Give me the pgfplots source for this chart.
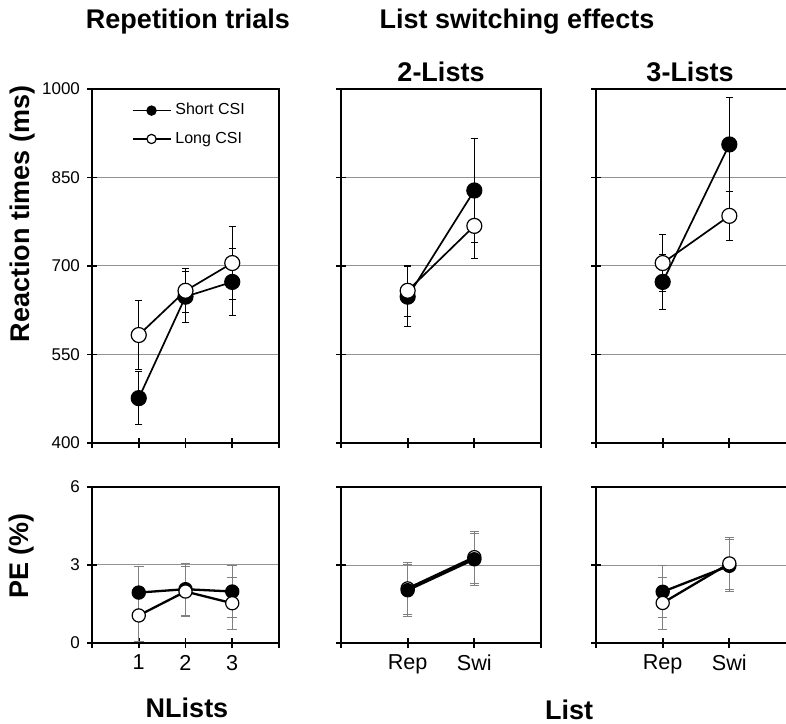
\documentclass[border=0pt]{standalone}
\usepackage{fontspec}
\setmainfont{Liberation Sans}
\usepackage{pgfplots}
\pgfplotsset{compat=1.18}
\begin{document}
\begin{tikzpicture}
\pgfplotsset{
 base/.style={scale only axis, anchor=south west, axis line style={line width=1pt},
   tick style={black, line width=0.9pt}, tick align=center, major tick length=5pt,
   tick pos=left, ymajorgrids, grid style={gray!85, line width=0.5pt},
   /pgf/number format/assume math mode=true, /pgf/number format/1000 sep={},
   yticklabel style={font=\fontsize{8.5}{10}\selectfont},
   xticklabel style={font=\fontsize{10.8}{12}\selectfont},
   clip=false},
 rt/.style={base, height=177pt, ymin=400, ymax=1000, ytick={400,550,700,850,1000}},
 pe/.style={base, height=78pt, ymin=0, ymax=6, ytick={0,3,6}},
 three/.style={width=93.5pt, xmin=0, xmax=4, xtick={0,1,2,3,4}},
 two/.style={width=100pt, xmin=0, xmax=3, xtick={0,1,2,3}},
 topS/.style={black, line width=0.85pt, mark=*, mark size=3.75pt, mark options={fill=black, line width=0.6pt},
   error bars/.cd, y dir=both, y explicit, error bar style={black, line width=0.5pt},
   error mark=-, error mark options={black, line width=0.5pt, mark size=1.8pt, rotate=90}},
 topL/.style={black, line width=0.85pt, mark=*, mark size=3.75pt, mark options={fill=white, line width=0.6pt},
   error bars/.cd, y dir=both, y explicit, error bar style={black, line width=0.5pt},
   error mark=-, error mark options={black, line width=0.5pt, mark size=1.8pt, rotate=90}},
 botS/.style={black, line width=1.15pt, mark=*, mark size=3.3pt, mark options={fill=black, line width=0.6pt},
   error bars/.cd, y dir=both, y explicit, error bar style={gray, line width=0.4pt},
   error mark=-, error mark options={gray, line width=0.4pt, mark size=2.4pt, rotate=90}},
 botL/.style={black, line width=1.15pt, mark=*, mark size=3.3pt, mark options={fill=white, line width=0.6pt},
   error bars/.cd, y dir=both, y explicit, error bar style={gray, line width=0.4pt},
   error mark=-, error mark options={gray, line width=0.4pt, mark size=2.4pt, rotate=90}},
}
% ---------- Top left: Repetition trials RT
\begin{axis}[rt, three, at={(46pt,140pt)}, xticklabels={},
  legend style={draw=none, fill=none, at={(rel axis cs:0.21,0.972)}, anchor=north west,
    font=\fontsize{8}{10}\selectfont, row sep=3pt, inner sep=0pt},
  legend cell align=left,
  legend image code/.code={\draw[mark repeat=2,mark phase=2,#1,mark size=2.3pt] plot coordinates {(0pt,0pt)(9.5pt,0pt)(19pt,0pt)};}]
\addplot[topS] table[y error=e] {
x y e
1 476 45
2 648 43
3 673 57
};
\addplot[topL] table[y error=e] {
x y e
1 583 58
2 658 37
3 705 62
};
\legend{Short CSI, Long CSI}
\end{axis}
% ---------- Top middle: 2-Lists RT
\begin{axis}[rt, two, at={(170.5pt,140pt)}, xticklabels={}, yticklabels={}]
\addplot[topS] table[y error=e] {
x y e
1 648 51
2 828 88
};
\addplot[topL] table[y error=e] {
x y e
1 658 43
2 768 56
};
\end{axis}
% ---------- Top right: 3-Lists RT
\begin{axis}[rt, two, at={(298pt,140pt)}, xticklabels={}, yticklabels={}]
\addplot[topS] table[y error=e] {
x y e
1 673 47
2 906 80
};
\addplot[topL] table[y error=e] {
x y e
1 705 49
2 785 42
};
\end{axis}
% ---------- Bottom left: PE
\begin{axis}[pe, three, at={(46pt,40pt)}, xticklabels={,1,2,3,}]
\addplot[botS] table[y error=e] {
x y e
1 1.94 1.0
2 2.07 1.0
3 1.98 1.0
};
\addplot[botL] table[y error=e] {
x y e
1 1.06 1.0
2 1.98 0.95
3 1.53 1.0
};
\end{axis}
% ---------- Bottom middle
\begin{axis}[pe, two, at={(170.5pt,40pt)}, xticklabels={,Rep,Swi,}, yticklabels={}]
\addplot[botL] table[y error=e] {
x y e
1 2.10 1.0
2 3.30 1.0
};
\addplot[botS] table[y error=e] {
x y e
1 2.03 1.0
2 3.22 1.0
};
\end{axis}
% ---------- Bottom right
\begin{axis}[pe, two, at={(298pt,40pt)}, xticklabels={,Rep,Swi,}, yticklabels={}]
\addplot[botS] table[y error=e] {
x y e
1 1.97 1.0
2 2.97 1.0
};
\addplot[botL] table[y error=e] {
x y e
1 1.54 1.0
2 3.06 1.0
};
\end{axis}
% ---------- Titles and labels
\begin{scope}[every node/.style={font=\fontsize{13.5}{16}\selectfont\bfseries, inner sep=0pt}]
\node at (94pt,350.5pt) {Repetition trials};
\node at (258.5pt,350.5pt) {List switching effects};
\node at (220.5pt,325.5pt) {2-Lists};
\node at (345pt,325.5pt) {3-Lists};
\node[rotate=90] at (11.5pt,254.5pt) {Reaction times (ms)};
\node[rotate=90] at (11pt,83.5pt) {PE (\%)};
\node at (93.5pt,7.5pt) {NLists};
\node at (284.5pt,6.5pt) {List};
\end{scope}
\pgfresetboundingbox
\path[use as bounding box] (0,0) rectangle (393pt,361.5pt);
\end{tikzpicture}
\end{document}
